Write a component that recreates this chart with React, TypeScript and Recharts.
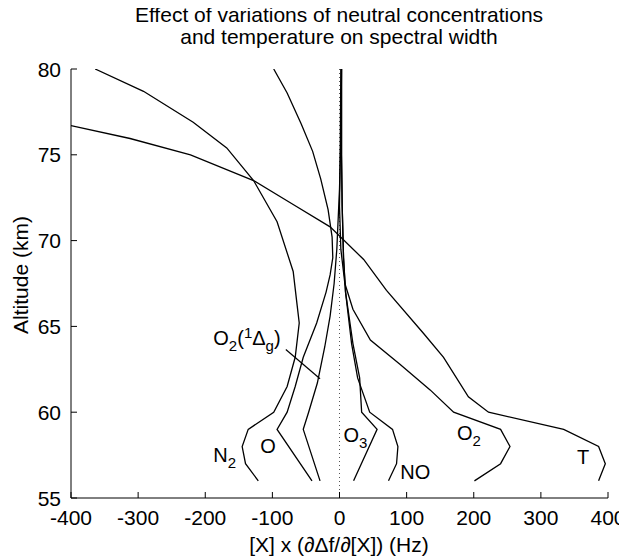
import React from "react";
import { LineChart, Line, XAxis, YAxis, ReferenceLine, ReferenceDot } from "recharts";

const FONT = '"Liberation Sans", Arial, Helvetica, sans-serif';

const xTicks = [-400, -300, -200, -100, 0, 100, 200, 300, 400];
const yTicks = [55, 60, 65, 70, 75, 80];

// curves: x = [X]*(dDf/d[X]) in Hz, y = altitude in km
const n2Hz = [-364, -292, -218, -168, -128, -93, -69, -63, -60, -66, -78, -98, -136, -145, -140, -121];
const n2Alt = [80, 78.7, 76.9, 75.4, 73.5, 71.1, 68.2, 66.2, 65.2, 63.2, 61.5, 60, 59, 58, 57, 56];

const tHz = [-400, -312, -222, -128, -69, -14, 36, 70, 125, 155, 192, 222, 334, 386, 396, 386];
const tAlt = [76.7, 75.95, 75.0, 73.5, 72.1, 70.8, 68.9, 67.1, 64.6, 63.2, 60.9, 60, 59, 58, 57, 56];

const oHz = [-98, -78, -57, -40, -28, -17, -11, -10, -14, -20, -34, -54, -66, -78, -93, -41];
const oAlt = [80, 78.6, 76.8, 75.2, 73.6, 71.8, 70.2, 69, 68, 67, 65.2, 63.2, 61.5, 60, 59, 56];

const o2dHz = [3, 2, 0, -4, -8, -14, -22, -33, -46, -54, -29];
const o2dAlt = [80, 76, 73, 69.5, 67.5, 65.6, 63.8, 61.7, 60, 59, 56];

const o3Hz = [3, 3, 4, 6, 9, 20, 30, 33, 56, 21];
const o3Alt = [80, 75, 72, 69, 67, 64, 62, 60, 59, 56];

const noHz = [3, 3, 4, 6, 9, 18, 27, 45, 79, 87, 85, 73];
const noAlt = [80, 75, 72, 69, 67, 64, 62, 60, 59, 58, 57, 56];

const o2Hz = [2, 1, 0, 2, 8, 20, 46, 90, 135, 170, 240, 254, 240, 201];
const o2Alt = [80, 75, 72, 69.5, 67.5, 66, 64.2, 62.8, 61.3, 60, 59, 58, 57, 56];

const toPoints = (hz: number[], alt: number[]) => hz.map((x, i) => ({ x, y: alt[i] }));

const series = [
  { name: "N2", data: toPoints(n2Hz, n2Alt) },
  { name: "T", data: toPoints(tHz, tAlt) },
  { name: "O", data: toPoints(oHz, oAlt) },
  { name: "O2(1Dg)", data: toPoints(o2dHz, o2dAlt) },
  { name: "O3", data: toPoints(o3Hz, o3Alt) },
  { name: "NO", data: toPoints(noHz, noAlt) },
  { name: "O2", data: toPoints(o2Hz, o2Alt) },
];

// label anchors (left end of baseline) in data units
const curveLabels = [
  { key: "N2", x: -188, y: 57.1 },
  { key: "O", x: -118, y: 57.6 },
  { key: "O2d", x: -188, y: 63.9 },
  { key: "O3", x: 6, y: 58.27 },
  { key: "NO", x: 90.5, y: 56.13 },
  { key: "O2", x: 175, y: 58.4 },
  { key: "T", x: 354, y: 57.0 },
];

const LABEL_SIZE = 20;
const SUB_SIZE = 15;
const AXIS_SIZE = 21;

const labelText = (key: string, x: number, y: number) => {
  const common = { x, y, fontSize: LABEL_SIZE, fontFamily: FONT, fill: "#000" };
  if (key === "N2" || key === "O3" || key === "O2") {
    return (
      <text {...common}>
        {key[0]}
        <tspan dy={6} fontSize={SUB_SIZE}>{key[1]}</tspan>
      </text>
    );
  }
  if (key === "O2d") {
    return (
      <text {...common}>
        O<tspan dy={6} fontSize={SUB_SIZE}>2</tspan>
        <tspan dy={-6}>(</tspan>
        <tspan dy={-7} fontSize={SUB_SIZE}>1</tspan>
        <tspan dy={7}>Δ</tspan>
        <tspan dy={6} fontSize={SUB_SIZE}>g</tspan>
        <tspan dy={-6}>)</tspan>
      </text>
    );
  }
  return <text {...common}>{key}</text>;
};

const BottomTick = (props: any) => {
  const { x, y, payload } = props;
  return (
    <g>
      <line x1={x} x2={x} y1={y} y2={y - 6} stroke="#000" />
      <text x={x} y={y + 27} textAnchor="middle" fontSize={AXIS_SIZE} fontFamily={FONT} fill="#000">
        {payload.value}
      </text>
    </g>
  );
};

const TopTick = (props: any) => {
  const { x, y } = props;
  return <line x1={x} x2={x} y1={y} y2={y + 6} stroke="#000" />;
};

const LeftTick = (props: any) => {
  const { x, y, payload } = props;
  return (
    <g>
      <line x1={x} x2={x + 6} y1={y} y2={y} stroke="#000" />
      <text x={x - 10} y={y} dy="0.36em" textAnchor="end" fontSize={AXIS_SIZE} fontFamily={FONT} fill="#000">
        {payload.value}
      </text>
    </g>
  );
};

const RightTick = (props: any) => {
  const { x, y } = props;
  return <line x1={x} x2={x - 6} y1={y} y2={y} stroke="#000" />;
};

export default function App() {
  return (
    <div style={{ position: "relative", width: 627, height: 556, margin: "-8px 0 0 -8px", background: "#fff" }}>
      <LineChart width={627} height={556} margin={{ top: 69, right: 19, bottom: 0, left: 0 }}>
        <XAxis
          type="number"
          dataKey="x"
          domain={[-400, 400]}
          ticks={xTicks}
          height={58}
          tickSize={0}
          tickMargin={0}
          tick={<BottomTick />}
          axisLine={{ stroke: "#000" }}
          allowDataOverflow
        />
        <XAxis
          xAxisId="top"
          orientation="top"
          type="number"
          dataKey="x"
          domain={[-400, 400]}
          ticks={xTicks}
          height={0}
          tickSize={0}
          tickMargin={0}
          tick={<TopTick />}
          axisLine={{ stroke: "#000" }}
          allowDataOverflow
        />
        <YAxis
          type="number"
          domain={[55, 80]}
          ticks={yTicks}
          width={71}
          tickSize={0}
          tickMargin={0}
          tick={<LeftTick />}
          axisLine={{ stroke: "#000" }}
          allowDataOverflow
        />
        <YAxis
          yAxisId="right"
          orientation="right"
          type="number"
          domain={[55, 80]}
          ticks={yTicks}
          width={0}
          tickSize={0}
          tickMargin={0}
          tick={<RightTick />}
          axisLine={{ stroke: "#000" }}
          allowDataOverflow
        />
        <ReferenceLine x={0} stroke="#555" strokeDasharray="1 3" />
        {series.map((s) => (
          <Line
            key={s.name}
            data={s.data}
            dataKey="y"
            type="linear"
            stroke="#000"
            strokeWidth={1.3}
            dot={false}
            isAnimationActive={false}
          />
        ))}
        <ReferenceLine
          segment={[
            { x: -80, y: 63.65 },
            { x: -29, y: 61.95 },
          ]}
          stroke="#000"
          strokeWidth={1.2}
        />
        {curveLabels.map((l) => (
          <ReferenceDot
            key={l.key}
            x={l.x}
            y={l.y}
            r={0}
            shape={(p: any) => labelText(l.key, p.cx, p.cy)}
          />
        ))}
      </LineChart>
      <svg
        width={627}
        height={556}
        style={{ position: "absolute", left: 0, top: 0, pointerEvents: "none" }}
      >
        <text x={339} y={22} textAnchor="middle" fontSize={AXIS_SIZE} fontFamily={FONT} fill="#000">
          Effect of variations of neutral concentrations
        </text>
        <text x={339} y={44} textAnchor="middle" fontSize={AXIS_SIZE} fontFamily={FONT} fill="#000">
          and temperature on spectral width
        </text>
        <text
          transform="translate(28,275) rotate(-90)"
          textAnchor="middle"
          fontSize={AXIS_SIZE}
          fontFamily={FONT}
          fill="#000"
        >
          Altitude (km)
        </text>
        <text x={339} y={552} textAnchor="middle" fontSize={AXIS_SIZE} fontFamily={FONT} fill="#000">
          [X] x (∂Δf/∂[X]) (Hz)
        </text>
      </svg>
    </div>
  );
}
